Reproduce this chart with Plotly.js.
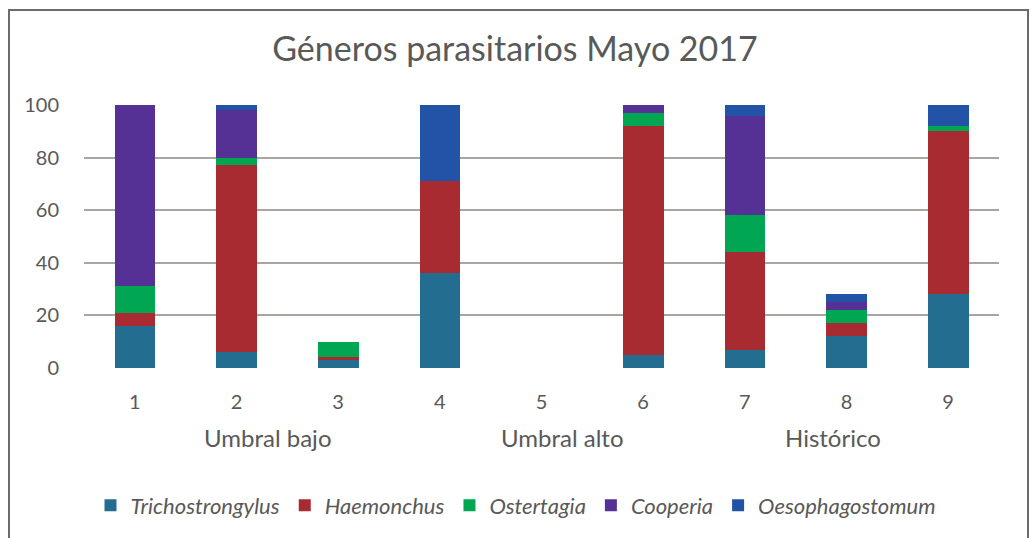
<!DOCTYPE html>
<html>
<head>
<meta charset="utf-8">
<script src="https://cdn.plot.ly/plotly-3.0.1.min.js"></script>
<style>
html,body{margin:0;padding:0;background:#fff;}
#chart{width:1030px;height:538px;}
</style>
</head>
<body>
<div id="chart"></div>
<script>
const categories = [1, 2, 3, 4, 5, 6, 7, 8, 9];
const seriesNames = ["Trichostrongylus", "Haemonchus", "Ostertagia", "Cooperia", "Oesophagostomum"];
const trichostrongylus = [16, 6, 3, 36, 0, 5, 7, 12, 28];
const haemonchus       = [5, 71, 1, 35, 0, 87, 37, 5, 62];
const ostertagia       = [10, 3, 6, 0, 0, 5, 14, 5, 2];
const cooperia         = [69, 18, 0, 0, 0, 3, 38, 3, 0];
const oesophagostomum  = [0, 2, 0, 29, 0, 0, 4, 3, 8];
const groupLabels = ["Umbral bajo", "Umbral alto", "Histórico"];
const groupCenters = [2.31, 5.21, 7.87];
const yTicks = [0, 20, 40, 60, 80, 100];

const colors = ["#236D91", "#A72B30", "#00A651", "#563195", "#2253A6"];
const values = [trichostrongylus, haemonchus, ostertagia, cooperia, oesophagostomum];
const textColor = "#595959";
const font = "Lato, 'Open Sans', sans-serif";

const traces = seriesNames.map((n, i) => ({
  type: "bar",
  name: n,
  x: categories,
  y: values[i],
  marker: {color: colors[i], line: {width: 0}},
  hoverinfo: "name+y"
}));

const W = 1030, H = 538;
const ml = 84, mr = 31, mt = 105, mb = 167;
const pw = W - ml - mr, ph = H - mt - mb;
const px = x => (x - ml) / pw;
const py = y => (H - mb - y) / ph;

const annotations = groupLabels.map((t, i) => ({
  text: t, x: groupCenters[i], xref: "x", y: py(441), yref: "paper",
  showarrow: false, xanchor: "center", yanchor: "middle",
  font: {family: font, size: 24, color: textColor}
}));

const layout = {
  width: W, height: H,
  margin: {l: ml, r: mr, t: mt, b: mb},
  paper_bgcolor: "#fff", plot_bgcolor: "#fff",
  barmode: "stack",
  bargap: 0.6,
  title: {text: "Géneros parasitarios Mayo 2017", x: 0.5, xanchor: "center",
          y: 1 - 49 / H, yanchor: "middle", yref: "container",
          font: {family: font, size: 34, color: textColor}},
  xaxis: {range: [0.5, 9.5], tickvals: categories, ticktext: categories.map(String),
          showgrid: false, zeroline: false, showline: false,
          ticks: "outside", ticklen: 16, tickcolor: "rgba(0,0,0,0)",
          tickfont: {family: font, size: 20, color: textColor}, fixedrange: true},
  yaxis: {range: [0, 100], tickvals: yTicks, showgrid: true, gridcolor: "#A8A5A3", gridwidth: 2,
          zeroline: false, showline: false,
          ticks: "outside", ticklen: 20, tickcolor: "rgba(0,0,0,0)",
          tickfont: {family: font, size: 20, color: textColor}, fixedrange: true},
  showlegend: true,
  legend: {orientation: "h", x: px(516), xanchor: "center", y: py(510), yanchor: "middle",
           traceorder: "normal",
           font: {family: font, size: 22, color: textColor, style: "italic"}},
  annotations: annotations,
  shapes: [{type: "rect", xref: "paper", yref: "paper",
            x0: px(9), x1: px(1028), y0: py(560), y1: py(9),
            line: {color: "#6B6B6B", width: 2}, fillcolor: "rgba(0,0,0,0)", layer: "above"}]
};

Plotly.newPlot("chart", traces, layout, {displayModeBar: false, staticPlot: true});
</script>
</body>
</html>
